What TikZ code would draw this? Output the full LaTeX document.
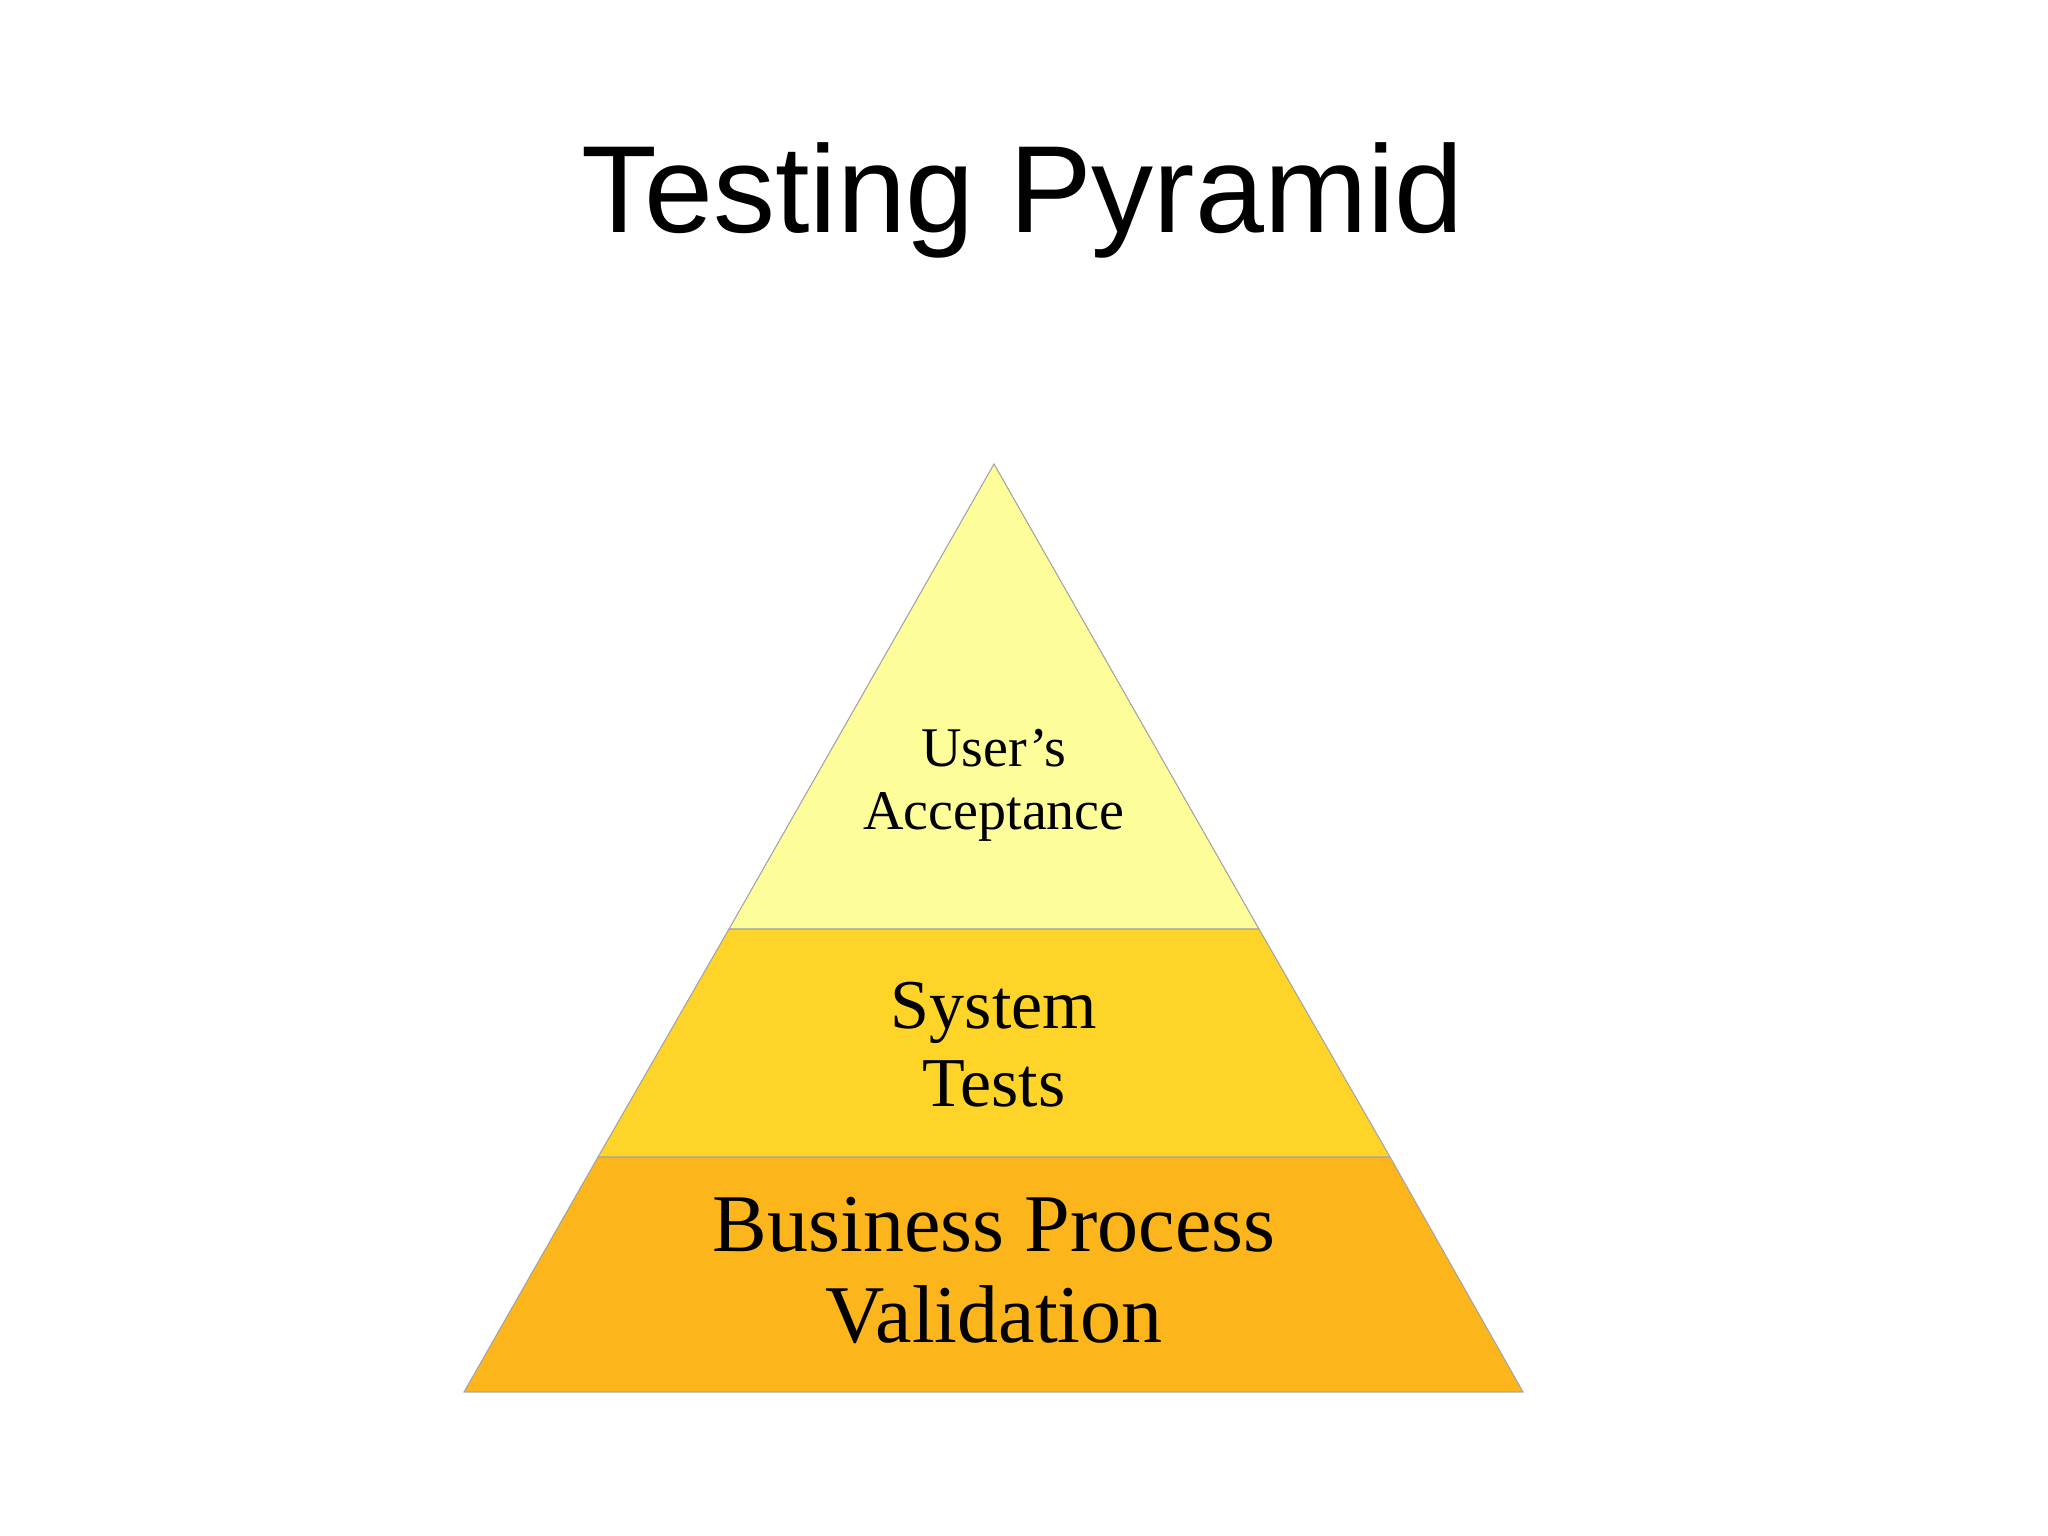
\documentclass[tikz,border=0pt]{standalone}
\usepackage{fontspec}
\setmainfont{Liberation Serif}
\newfontfamily\titlefont{Liberation Sans}
\begin{document}
\begin{tikzpicture}[x=1pt,y=-1pt,
  tier/.style={draw=gray!70,line width=0.8pt},
  lbl/.style={align=center,inner sep=0pt}]
\useasboundingbox[fill=white] (0,0) rectangle (2048,1535);
\node[font=\titlefont\fontsize{124}{140}\selectfont,anchor=base] (title) at (1023,232) {Testing Pyramid};
\coordinate (A) at (994,464);
\coordinate (L1) at (729,929); \coordinate (R1) at (1259,929);
\coordinate (L2) at (598,1157); \coordinate (R2) at (1390,1157);
\coordinate (L3) at (464,1392); \coordinate (R3) at (1523,1392);
\fill[tier,fill={rgb,255:red,253;green,181;blue,28}] (L2) -- (R2) -- (R3) -- (L3) -- cycle;
\fill[tier,fill={rgb,255:red,254;green,212;blue,40}] (L1) -- (R1) -- (R2) -- (L2) -- cycle;
\fill[tier,fill={rgb,255:red,253;green,253;blue,153}] (A) -- (R1) -- (L1) -- cycle;
\draw[tier] (A) -- (R1) -- (L1) -- cycle;
\draw[tier] (L1) -- (R1) -- (R2) -- (L2) -- cycle;
\draw[tier] (L2) -- (R2) -- (R3) -- (L3) -- cycle;
\node[lbl,font=\fontsize{56}{63}\selectfont] (ua) at (994,785) {User's\\Acceptance};
\node[lbl,font=\fontsize{70}{78}\selectfont] (st) at (994,1045) {System\\Tests};
\node[lbl,font=\fontsize{82}{91}\selectfont] (bp) at (994,1270) {Business Process\\Validation};
\end{tikzpicture}
\end{document}
